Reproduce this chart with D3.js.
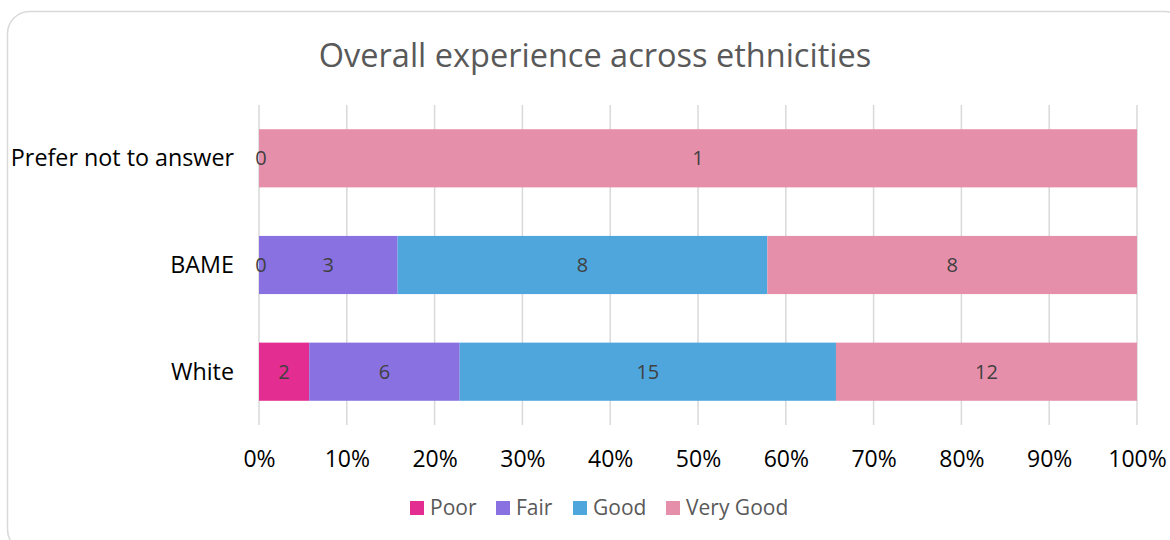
<!DOCTYPE html>
<html>
<head>
<meta charset="utf-8">
<script src="https://cdn.jsdelivr.net/npm/d3@7"></script>
<style>
  body { margin: 0; background: #fff; }
  svg { display: block; font-family: "Open Sans", sans-serif; }
</style>
</head>
<body>
<div id="chart"></div>
<script>
// data
var categories = ["Prefer not to answer", "BAME", "White"];
var seriesNames = ["Poor", "Fair", "Good", "Very Good"];
var poor = [0, 0, 2];
var fair = [null, 3, 6];
var good = [null, 8, 15];
var veryGood = [1, 8, 12];
var tickValues = [0, 0.1, 0.2, 0.3, 0.4, 0.5, 0.6, 0.7, 0.8, 0.9, 1];

var colors = ["#E32D91", "#8971E1", "#4EA6DC", "#E68FAB"];

var width = 1170, height = 540;
var margin = {left: 259, right: 33, top: 105, bottom: 115};

var svg = d3.select("#chart").append("svg")
    .attr("width", width)
    .attr("height", height);

// chart frame
svg.append("rect")
    .attr("x", 7.5).attr("y", 11.5)
    .attr("width", 1180).attr("height", 540)
    .attr("rx", 22).attr("ry", 22)
    .style("fill", "#fff")
    .style("stroke", "#d9d9d9")
    .style("stroke-width", 1.5);

// title
svg.append("text")
    .attr("x", 595).attr("y", 67)
    .attr("text-anchor", "middle")
    .style("font-size", "32.5px")
    .style("fill", "#595959")
    .text("Overall experience across ethnicities");

// build rows and stack into shares
var rows = categories.map(function (c, i) {
    return {cat: c, Poor: poor[i], Fair: fair[i], Good: good[i], "Very Good": veryGood[i]};
});
rows.forEach(function (r) {
    var total = d3.sum(seriesNames, function (s) { return r[s] || 0; });
    seriesNames.forEach(function (s) { r["p_" + s] = (r[s] || 0) / total; });
});
var stack = d3.stack().keys(seriesNames.map(function (s) { return "p_" + s; }));
var stacked = stack(rows);

var x = d3.scaleLinear().domain([0, 1]).range([margin.left, width - margin.right]);
var y = d3.scaleBand().domain(categories)
    .range([margin.top, height - margin.bottom])
    .paddingInner(0.455).paddingOuter(0.227);

// gridlines
svg.append("g").attr("class", "grid")
    .selectAll("line").data(tickValues).enter().append("line")
    .attr("x1", function (d) { return x(d); })
    .attr("x2", function (d) { return x(d); })
    .attr("y1", margin.top).attr("y2", height - margin.bottom)
    .style("stroke", "#d9d9d9")
    .style("stroke-width", 1.5);

// bars
var layer = svg.selectAll(".layer").data(stacked).enter().append("g")
    .attr("class", "layer")
    .style("fill", function (d, i) { return colors[i]; });

layer.selectAll("rect").data(function (d) { return d; }).enter().append("rect")
    .attr("x", function (d) { return x(d[0]); })
    .attr("width", function (d) { return x(d[1]) - x(d[0]); })
    .attr("y", function (d) { return y(d.data.cat); })
    .attr("height", y.bandwidth());

// data labels (drawn after all bars so zero labels stay visible)
var labelGroup = svg.append("g").attr("class", "labels");
stacked.forEach(function (ser, si) {
    var name = seriesNames[si];
    labelGroup.append("g").selectAll("text")
        .data(ser.filter(function (d) { return d.data[name] !== null; }))
        .enter().append("text")
        .attr("x", function (d) { return (x(d[0]) + x(d[1])) / 2 + (d[1] === d[0] ? 2 : 0); })
        .attr("y", function (d) { return y(d.data.cat) + y.bandwidth() / 2; })
        .attr("dy", "0.35em")
        .attr("text-anchor", "middle")
        .style("font-size", "20px")
        .style("fill", "#404040")
        .text(function (d) { return d.data[name]; });
});

// category labels
svg.append("g").selectAll("text").data(categories).enter().append("text")
    .attr("x", 234)
    .attr("y", function (d) { return y(d) + y.bandwidth() / 2; })
    .attr("dy", "0.35em")
    .attr("text-anchor", "end")
    .style("font-size", "23.3px")
    .style("fill", "#000")
    .text(function (d) { return d; });

// x axis
var xAxis = d3.axisBottom(x).tickValues(tickValues).tickSize(0).tickPadding(0)
    .tickFormat(d3.format(".0%"));
var gx = svg.append("g")
    .attr("transform", "translate(0," + 451 + ")")
    .call(xAxis);
gx.select(".domain").remove();
gx.selectAll("text")
    .style("font-family", "'Open Sans', sans-serif")
    .style("font-size", "23px")
    .style("fill", "#000");

// legend
var legendItems = [
    {name: "Poor", x: 410},
    {name: "Fair", x: 496},
    {name: "Good", x: 573},
    {name: "Very Good", x: 666}
];
var lg = svg.append("g").selectAll("g").data(legendItems).enter().append("g")
    .attr("transform", function (d) { return "translate(" + d.x + ",501)"; });
lg.append("rect")
    .attr("width", 14).attr("height", 14)
    .style("fill", function (d, i) { return colors[i]; });
lg.append("text")
    .attr("x", 20).attr("y", 7)
    .attr("dy", "0.35em")
    .style("font-size", "21px")
    .style("fill", "#595959")
    .text(function (d) { return d.name; });
</script>
</body>
</html>
